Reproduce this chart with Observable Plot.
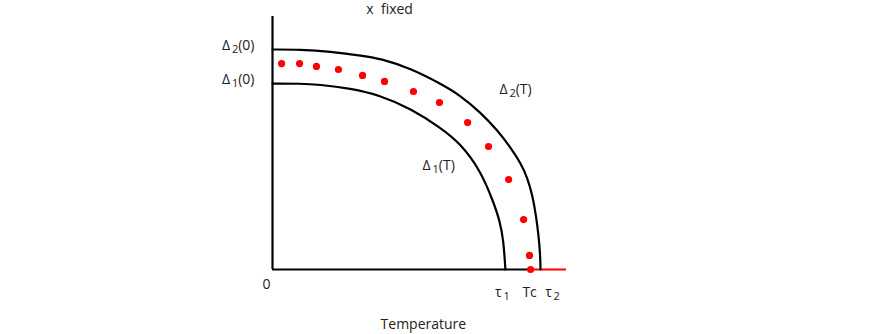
<!DOCTYPE html>
<html>
<head>
<meta charset="utf-8">
<script src="https://cdn.jsdelivr.net/npm/d3@7"></script>
<script src="https://cdn.jsdelivr.net/npm/@observablehq/plot@0.6"></script>
<style>
  html, body { margin: 0; padding: 0; background: #fff; }
  #chart svg { display: block; font-family: "Open Sans", "Noto Sans", sans-serif; }
</style>
</head>
<body>
<div id="chart"></div>
<script>
// Temperature in units of tau2; gap in units of Delta2(0)
const outerT = [0, 0.104, 0.216, 0.328, 0.403, 0.515, 0.627, 0.701, 0.776, 0.840, 0.888, 0.925, 0.951, 0.970, 0.982, 0.993, 0.999, 1.000];
const outerD = [1.000, 1.000, 0.991, 0.973, 0.959, 0.914, 0.845, 0.791, 0.714, 0.632, 0.555, 0.486, 0.418, 0.336, 0.255, 0.155, 0.064, 0];
const innerT = [0, 0.104, 0.172, 0.291, 0.403, 0.515, 0.627, 0.701, 0.776, 0.822, 0.848, 0.862, 0.869];
const innerD = [0.845, 0.845, 0.841, 0.823, 0.791, 0.732, 0.645, 0.573, 0.450, 0.314, 0.223, 0.132, 0];
const dotT = [0.034, 0.101, 0.164, 0.246, 0.336, 0.418, 0.526, 0.623, 0.728, 0.806, 0.881, 0.937, 0.959, 0.963];
const dotD = [0.936, 0.936, 0.923, 0.909, 0.882, 0.855, 0.809, 0.759, 0.668, 0.559, 0.409, 0.227, 0.064, 0];
const tau1 = 0.869, Tc = 0.963, tau2 = 1.0, xMax = 1.097, yMax = 1.15;
const yTickValues = [1.0, 0.845];
const yTickLabels = ["Δ{2}(0)", "Δ{1}(0)"];
const xTickValues = [0, tau1, Tc, tau2];
const xTickLabels = ["0", "τ{1}", "Tc", "τ{2}"];
const xTickShift = [-6, -3, -1, 12];

const outer = outerT.map((t, i) => ({t, d: outerD[i]}));
const inner = innerT.map((t, i) => ({t, d: innerD[i]}));
const dots = dotT.map((t, i) => ({t, d: dotD[i]}));
const yTicks = yTickValues.map((v, i) => ({v, label: yTickLabels[i]}));
const xTicks = xTickValues.map((v, i) => ({v, label: xTickLabels[i], dx: xTickShift[i]}));

const chart = Plot.plot({
  width: 872,
  height: 334,
  marginLeft: 272,
  marginRight: 306,
  marginTop: 16,
  marginBottom: 65,
  x: {domain: [0, xMax], axis: null},
  y: {domain: [0, yMax], axis: null},
  style: {fontFamily: "'Open Sans', 'Noto Sans', sans-serif", fontSize: "14px", color: "#222"},
  marks: [
    Plot.ruleX([0], {y1: 0, y2: yMax, stroke: "black", strokeWidth: 2.2}),
    Plot.ruleY([0], {x1: 0, x2: Tc, stroke: "black", strokeWidth: 2.2}),
    Plot.ruleY([0], {x1: Tc, x2: xMax, stroke: "red", strokeWidth: 2}),
    Plot.line(outer, {x: "t", y: "d", curve: "basis", stroke: "black", strokeWidth: 2.2}),
    Plot.line(inner, {x: "t", y: "d", curve: "basis", stroke: "black", strokeWidth: 2.2}),
    Plot.dot(dots, {x: "t", y: "d", r: 3.6, fill: "red", stroke: "none"}),
    Plot.text(yTicks, {x: 0, y: "v", text: "label", textAnchor: "end", dx: -18, dy: -4, fill: "#222"}),
    ...xTicks.map(d => Plot.text([d], {x: "v", y: 0, text: "label", dx: d.dx, dy: d.label === "0" ? 15 : 23, fill: "#222"})),
    Plot.text(["Δ{2}(T)"], {x: 0.847, y: 0.818, text: d => d, textAnchor: "start", fill: "#222"}),
    Plot.text(["Δ{1}(T)"], {x: 0.560, y: 0.473, text: d => d, textAnchor: "start", fill: "#222"}),
    Plot.text(["x  fixed"], {x: 0.437, y: yMax, text: d => d, dy: -7, fill: "#222"}),
    Plot.text(["Temperature"], {x: 0.563, y: 0, text: d => d, dy: 55, fill: "#222"})
  ]
});

// render {n} as small lowered subscripts, keeping real text
chart.querySelectorAll("text").forEach(t => {
  const s = t.textContent;
  if (!s.includes("{")) return;
  const parts = s.split(/(\{[^}]*\})/).filter(p => p.length);
  while (t.firstChild) t.removeChild(t.firstChild);
  let lowered = false;
  parts.forEach(p => {
    const ts = document.createElementNS("http://www.w3.org/2000/svg", "tspan");
    if (p.startsWith("{")) {
      ts.textContent = "\u2009" + p.slice(1, -1);
      ts.setAttribute("font-size", "11px");
      ts.setAttribute("dy", "3");
      lowered = true;
    } else {
      ts.textContent = p;
      if (lowered) { ts.setAttribute("dy", "-3"); lowered = false; }
    }
    t.appendChild(ts);
  });
});

document.getElementById("chart").appendChild(chart);
</script>
</body>
</html>
